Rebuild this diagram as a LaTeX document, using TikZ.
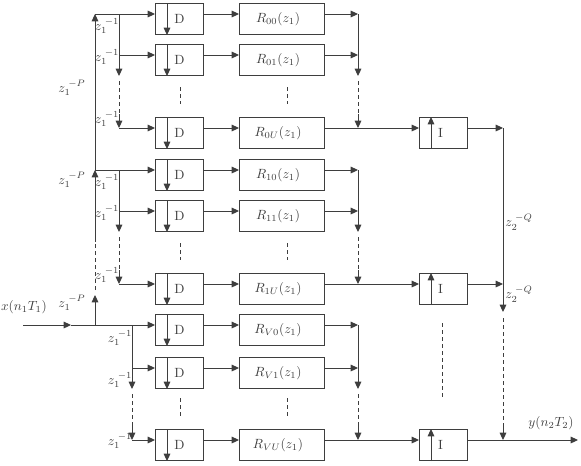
\documentclass[tikz,border=0pt]{standalone}
\usetikzlibrary{arrows.meta,calc}
\definecolor{lc}{RGB}{62,62,62}
\begin{document}
\begin{tikzpicture}[x=0.75pt,y=-0.75pt,line width=0.75pt,color=lc,
  tip/.style={-{Triangle[length=5.5pt,width=5pt]}},
  dsh/.style={dash pattern=on 3pt off 2.25pt},
  dbox/.style={draw,rectangle,anchor=north west,minimum width=36pt,minimum height=23.25pt,inner sep=0pt,font=\fontsize{10}{12}\selectfont},
  rbox/.style={dbox,minimum width=63.75pt},
  lbl/.style={inner sep=0pt,font=\fontsize{10}{12}\selectfont}]
\useasboundingbox (0,0) rectangle (581,465);

\foreach \g/\ya/\yb/\yc/\xk in {0/14/55/128/119, 1/170/211/284/119, V/325/368/440/132}{
  \foreach \q/\y in {0/\ya,1/\yb,U/\yc}{
    \node[dbox] (d\g\q) at (155,\y-11) {D};
    \node[rbox] (r\g\q) at (239,\y-11) {$R_{\g\q}(z_1)$\hspace*{6pt}};
    \coordinate (din\g\q) at ($(d\g\q.north west)+(0,11)$);
    \coordinate (dout\g\q) at ($(d\g\q.north east)+(0,11)$);
    \coordinate (rin\g\q) at ($(r\g\q.north west)+(0,11)$);
    \coordinate (rout\g\q) at ($(r\g\q.north east)+(0,11)$);
    \draw[tip] ($(d\g\q.north west)+(12,0)$) -- ($(d\g\q.south west)+(12,0)$);
    \draw[tip] (dout\g\q) -- (rin\g\q);
  }
  % left distribution
  \coordinate (j\g) at (95,\ya);
  \coordinate (k\g) at (\xk,\ya);
  \coordinate (ka\g) at (\xk,\yb+21);
  \coordinate (kb\g) at (\xk,\yc-14);
  \coordinate (k1\g) at (\xk,\yb);
  \coordinate (kU\g) at (\xk,\yc);
  \draw[tip] (j\g) -- (din\g0);
  \draw[tip] (k\g) -- (ka\g);
  \draw[tip] (k1\g) -- (din\g1);
  \draw[dsh] ($(ka\g)+(0,5)$) -- (kb\g);
  \draw[tip] (kb\g) -- (kU\g);
  \draw[tip] (kU\g) -- (din\g U);
  % summation
  \coordinate (s0\g) at (358,\ya);
  \coordinate (s1\g) at (358,\yb);
  \coordinate (sa\g) at (358,\yb+21);
  \coordinate (sb\g) at (358,\yc-14);
  \coordinate (sU\g) at (358,\yc);
  \draw[tip] (rout\g0) -- (s0\g);
  \draw[tip] (rout\g1) -- (s1\g);
  \draw[tip] (s0\g) -- (sa\g);
  \draw[dsh] ($(sa\g)+(0,5)$) -- (sb\g);
  \draw[tip] (sb\g) -- (sU\g);
  \node[dbox] (i\g) at (419,\yc-11) {I\hspace*{4.5pt}};
  \coordinate (iin\g) at ($(i\g.north west)+(0,11)$);
  \coordinate (iout\g) at ($(i\g.north east)+(0,11)$);
  \draw[tip] (rout\g U) -- (iin\g);
  \draw[tip] ($(i\g.south west)+(12,0)$) -- ($(i\g.north west)+(12,0)$);
  \coordinate (o\g) at (503,\yc);
}

% dotted continuation marks between boxes
\foreach \ta/\tb in {87/104, 243/260, 398/416}{
  \draw[dsh] (180,\ta) -- (180,\tb);
  \draw[dsh] (287,\ta) -- (287,\tb);
}
\draw[dsh] (442,323) -- (442,398);

% input and main delay line
\coordinate (xin) at (23,325);
\coordinate (xm) at (71,325);
\draw[tip] (xin) -- (xm);
\draw (xm) -- (jV);
\coordinate (la) at (95,295);
\coordinate (lb) at (95,242);
\draw[tip] (jV) -- (la);
\draw[dsh] ($(la)+(0,-5)$) -- (lb);
\draw[tip] (lb) -- (j1);
\draw[tip] (j1) -- (j0);

% output line
\coordinate (oa) at (503,312);
\coordinate (ob) at (503,426);
\coordinate (yout) at (578,440);
\draw[tip] (iout0) -- (o0);
\draw (o0) -- (o1);
\draw[tip] (iout1) -- (o1);
\draw[tip] (o1) -- (oa);
\draw[dsh] ($(oa)+(0,6)$) -- (ob);
\draw[tip] (ob) -- (oV);
\draw[tip] (ioutV) -- (yout);

% labels
\node[lbl] at (24,307) {$x(n_1T_1)$};
\node[lbl] at (72,88) {$z_1^{\;-P}$};
\node[lbl] at (72,180) {$z_1^{\;-P}$};
\node[lbl] at (72,303) {$z_1^{\;-P}$};
\foreach \px/\py in {107/26, 107/57, 107/119, 107/182, 107/213, 107/275, 120/338, 120/380, 120/441}{
  \node[lbl] at (\px,\py) {$z_1^{\;-1}$};
}
\node[lbl] at (519,222) {$z_2^{\;-Q}$};
\node[lbl] at (519,294) {$z_2^{\;-Q}$};
\node[lbl] at (551,423) {$y(n_2T_2)$};
\end{tikzpicture}
\end{document}
